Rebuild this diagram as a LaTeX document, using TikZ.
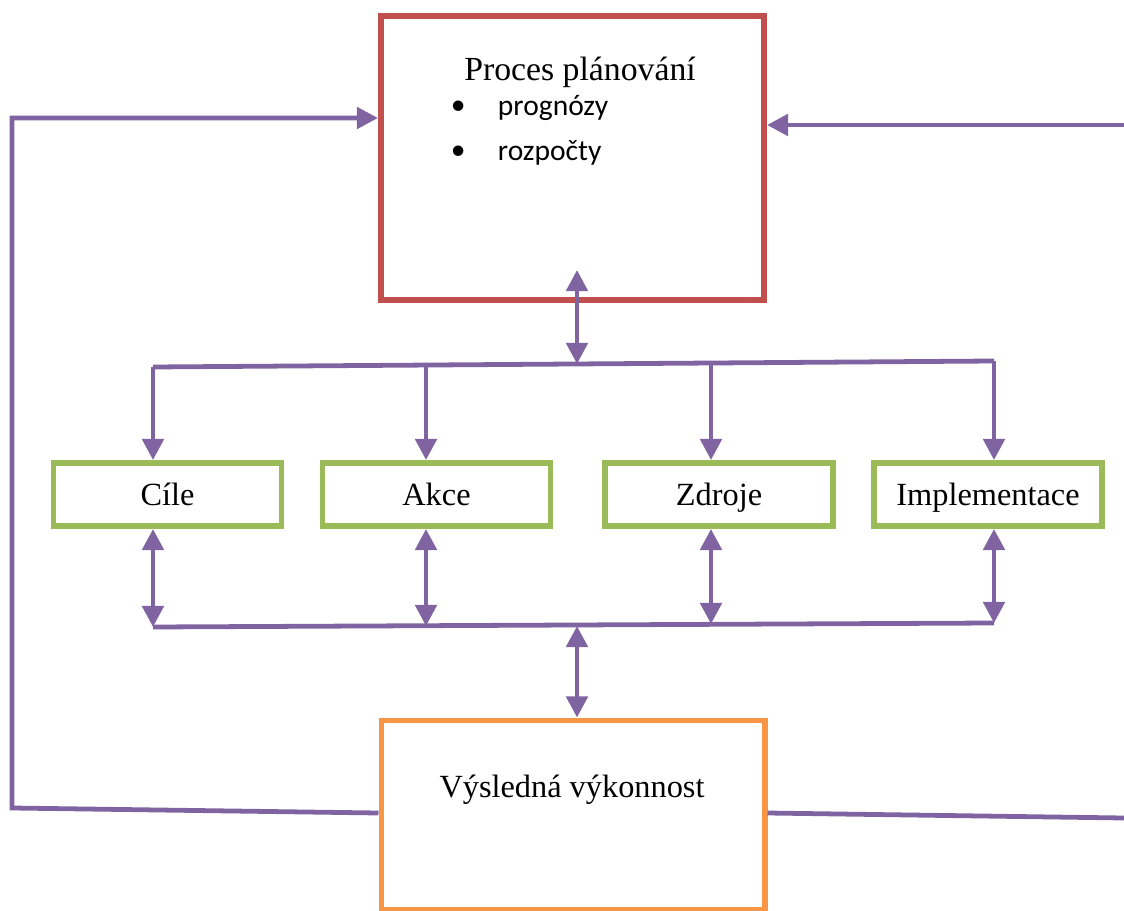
\documentclass[tikz,border=0pt]{standalone}
\usepackage{fontspec}
\setmainfont{Liberation Serif}
\newfontfamily\listfont{Carlito}
\usetikzlibrary{arrows.meta}
\definecolor{planred}{HTML}{C0504D}
\definecolor{stepgreen}{HTML}{9BBB59}
\definecolor{resultorange}{HTML}{F79646}
\definecolor{linkpurple}{HTML}{8064A2}

\begin{document}
\begin{tikzpicture}[x=0.025cm,y=-0.025cm,
    >={Triangle[length=15pt,width=15pt]},
    bigbox/.style={draw,line width=4.2pt,minimum width=9.575cm,minimum height=7.1cm},
    stepbox/.style={draw=stepgreen,line width=4.2pt,minimum width=5.7cm,minimum height=1.575cm,
      font=\fontsize{23}{27}\selectfont,text height=15.5pt,text depth=0pt},
    link/.style={draw=linkpurple,line width=3.4pt},
    label/.style={font=\fontsize{24}{28}\selectfont},
    item/.style={font=\listfont\fontsize{21}{25}\selectfont,anchor=west}]

      \useasboundingbox (0,0) rectangle (1124,911);

      % planning process at the top
      \node[bigbox,draw=planred] (plan) at (572.5,158) {};
      \node[label] (title) at (580,72) {Proces plánování};
      \node[item] (dot1) at (446,108) {•};
      \node[item] (prog) at (493,108) {prognózy};
      \node[item] (dot2) at (446,153) {•};
      \node[item] (rozp) at (493,153) {rozpočty};

      % the four steps
      \node[stepbox] (cile) at (167.5,494.5) {Cíle};
      \node[stepbox] (akce) at (436.5,494.5) {Akce};
      \node[stepbox] (zdroje) at (719,494.5) {Zdroje};
      \node[stepbox] (impl) at (988,494.5) {Implementace};

      % resulting performance
      \node[bigbox,draw=resultorange,minimum height=4.725cm] (result) at (573,815) {};
      \node[label,font=\fontsize{23}{27}\selectfont] (restitle) at (572,790) {Výsledná výkonnost};

      % upper bus
      \coordinate (u1) at (153,367);
      \coordinate (u2) at (426,365);
      \coordinate (u3) at (711,363);
      \coordinate (u4) at (994,361);
      \coordinate (umid) at (577,364);
      \coordinate (utip) at (577,270);
      \draw[link] (u1) -- (u4);
      \draw[link,<->] (umid) -- (utip);
      \draw[link,->] (u1) -- (u1 |- cile.north);
      \draw[link,->] (u2) -- (u2 |- akce.north);
      \draw[link,->] (u3) -- (u3 |- zdroje.north);
      \draw[link,->] (u4) -- (u4 |- impl.north);

      % lower bus
      \coordinate (l1) at (153,627);
      \coordinate (l2) at (426,626);
      \coordinate (l3) at (711,624);
      \coordinate (l4) at (994,623);
      \coordinate (lmid) at (577,626);
      \draw[link] (l1) -- (l4);
      \draw[link,<->] (l1 |- cile.south) -- (l1);
      \draw[link,<->] (l2 |- akce.south) -- (l2);
      \draw[link,<->] (l3 |- zdroje.south) -- (l3);
      \draw[link,<->] (l4 |- impl.south) -- (l4);
      \draw[link,<->] (lmid) -- (lmid |- result.north);

      % feedback loops
      \coordinate (lowleft) at (12,808);
      \coordinate (upleft) at (12,118);
      \coordinate (lowright) at (1124,818);
      \coordinate (upright) at (1124,125);
      \draw[link,->] (result.west |- 0,813) -- (lowleft) -- (upleft) -- (upleft -| plan.west);
      \draw[link] (result.east |- 0,813) -- (lowright);
      \draw[link,->] (upright) -- (upright -| plan.east);

\end{tikzpicture}
\end{document}
